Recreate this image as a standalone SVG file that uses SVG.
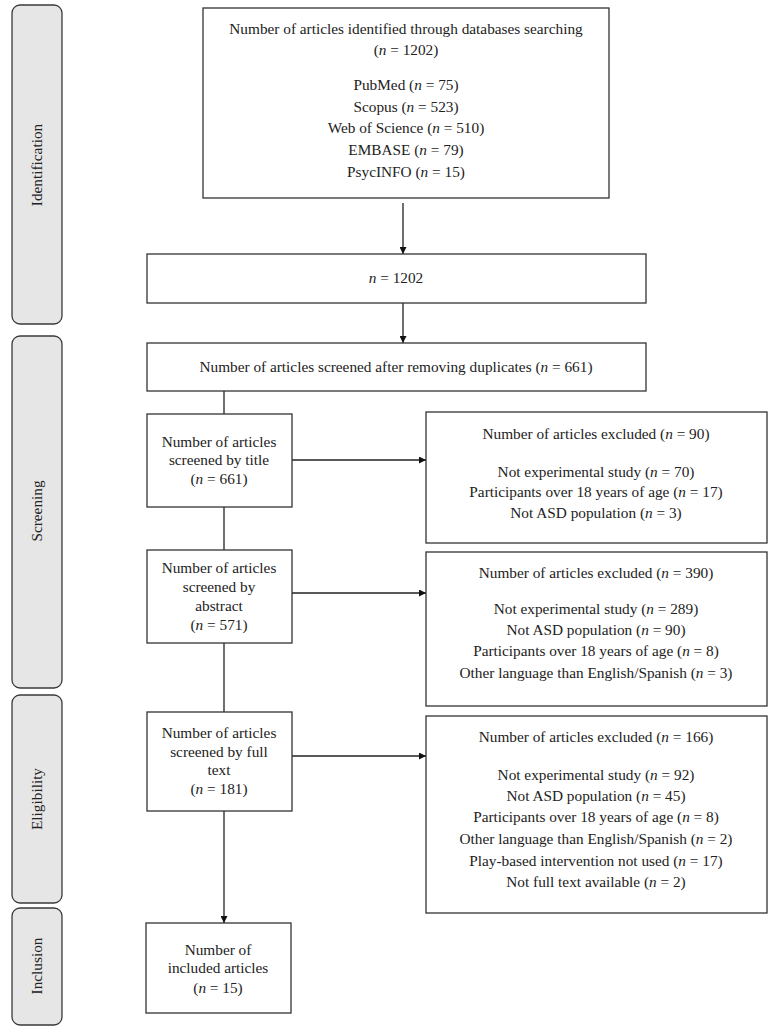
<svg xmlns="http://www.w3.org/2000/svg" width="775" height="1032" viewBox="0 0 775 1032">
<style>
.bg{fill:#ffffff}
.phase{fill:#e6e6e6;stroke:#3a3a3a;stroke-width:1.3}
.box{fill:#ffffff;stroke:#333333;stroke-width:1.3}
.t{font-family:"Liberation Serif","Times New Roman",serif;font-size:15.3px;fill:#222222;text-anchor:middle}
.i{font-style:italic}
.ln{fill:none;stroke:#222222;stroke-width:1.3}
</style>
<defs>
<marker id="ah" viewBox="0 0 10 10" refX="10" refY="5" markerWidth="7" markerHeight="7" markerUnits="userSpaceOnUse" orient="auto">
<path d="M0,0 L10,5 L0,10 Z" fill="#111111"/>
</marker>
</defs>
<rect class="bg" x="0" y="0" width="775" height="1032"/>

<g id="phase-identification">
<rect class="phase" x="12" y="5" width="50" height="319" rx="8"/>
<text class="t" transform="translate(42,165) rotate(-90)">Identification</text>
</g>
<g id="phase-screening">
<rect class="phase" x="12" y="336" width="50" height="352" rx="8"/>
<text class="t" transform="translate(42,511) rotate(-90)">Screening</text>
</g>
<g id="phase-eligibility">
<rect class="phase" x="12" y="695" width="50" height="208" rx="8"/>
<text class="t" transform="translate(42,799) rotate(-90)">Eligibility</text>
</g>
<g id="phase-inclusion">
<rect class="phase" x="12" y="908" width="50" height="117" rx="8"/>
<text class="t" transform="translate(42,966) rotate(-90)">Inclusion</text>
</g>

<g id="connectors">
<line class="ln" x1="403" y1="203" x2="403" y2="254" marker-end="url(#ah)"/>
<line class="ln" x1="403" y1="303" x2="403" y2="343" marker-end="url(#ah)"/>
<line class="ln" x1="224" y1="391" x2="224" y2="414"/>
<line class="ln" x1="224" y1="507" x2="224" y2="550"/>
<line class="ln" x1="224" y1="643" x2="224" y2="712"/>
<line class="ln" x1="224" y1="811" x2="224" y2="923" marker-end="url(#ah)"/>
<line class="ln" x1="292" y1="460" x2="426" y2="460" marker-end="url(#ah)"/>
<line class="ln" x1="292" y1="593" x2="426" y2="593" marker-end="url(#ah)"/>
<line class="ln" x1="292" y1="756" x2="426" y2="756" marker-end="url(#ah)"/>
</g>

<g id="node-identified">
<rect class="box" x="203" y="8" width="406" height="190"/>
<text class="t" x="406" y="34">Number of articles identified through databases searching</text>
<text class="t" x="406" y="55">(<tspan class="i">n</tspan> = 1202)</text>
<text class="t" x="406" y="90">PubMed (<tspan class="i">n</tspan> = 75)</text>
<text class="t" x="406" y="112">Scopus (<tspan class="i">n</tspan> = 523)</text>
<text class="t" x="406" y="133">Web of Science (<tspan class="i">n</tspan> = 510)</text>
<text class="t" x="406" y="155">EMBASE (<tspan class="i">n</tspan> = 79)</text>
<text class="t" x="406" y="177">PsycINFO (<tspan class="i">n</tspan> = 15)</text>
</g>

<g id="node-total">
<rect class="box" x="147" y="254" width="499" height="49"/>
<text class="t" x="396" y="283"><tspan class="i">n</tspan> = 1202</text>
</g>

<g id="node-dedup">
<rect class="box" x="147" y="343" width="499" height="48"/>
<text class="t" x="396" y="372">Number of articles screened after removing duplicates (<tspan class="i">n</tspan> = 661)</text>
</g>

<g id="node-title">
<rect class="box" x="147" y="414" width="145" height="93"/>
<text class="t" x="219" y="447">Number of articles</text>
<text class="t" x="219" y="465">screened by title</text>
<text class="t" x="219" y="484">(<tspan class="i">n</tspan> = 661)</text>
</g>

<g id="node-abstract">
<rect class="box" x="147" y="550" width="145" height="93"/>
<text class="t" x="219" y="573">Number of articles</text>
<text class="t" x="219" y="592">screened by</text>
<text class="t" x="219" y="611">abstract</text>
<text class="t" x="219" y="630">(<tspan class="i">n</tspan> = 571)</text>
</g>

<g id="node-fulltext">
<rect class="box" x="147" y="712" width="145" height="99"/>
<text class="t" x="219" y="738">Number of articles</text>
<text class="t" x="219" y="757">screened by full</text>
<text class="t" x="219" y="775">text</text>
<text class="t" x="219" y="794">(<tspan class="i">n</tspan> = 181)</text>
</g>

<g id="node-included">
<rect class="box" x="146" y="923" width="145" height="90"/>
<text class="t" x="218" y="955">Number of</text>
<text class="t" x="218" y="973">included articles</text>
<text class="t" x="218" y="993">(<tspan class="i">n</tspan> = 15)</text>
</g>

<g id="node-excl-title">
<rect class="box" x="426" y="412" width="341" height="131"/>
<text class="t" x="596" y="439">Number of articles excluded (<tspan class="i">n</tspan> = 90)</text>
<text class="t" x="596" y="477">Not experimental study (<tspan class="i">n</tspan> = 70)</text>
<text class="t" x="596" y="497">Participants over 18 years of age (<tspan class="i">n</tspan> = 17)</text>
<text class="t" x="596" y="518">Not ASD population (<tspan class="i">n</tspan> = 3)</text>
</g>

<g id="node-excl-abstract">
<rect class="box" x="426" y="552" width="341" height="154"/>
<text class="t" x="596" y="578">Number of articles excluded (<tspan class="i">n</tspan> = 390)</text>
<text class="t" x="596" y="614">Not experimental study (<tspan class="i">n</tspan> = 289)</text>
<text class="t" x="596" y="635">Not ASD population (<tspan class="i">n</tspan> = 90)</text>
<text class="t" x="596" y="656">Participants over 18 years of age (<tspan class="i">n</tspan> = 8)</text>
<text class="t" x="596" y="678">Other language than English/Spanish (<tspan class="i">n</tspan> = 3)</text>
</g>

<g id="node-excl-fulltext">
<rect class="box" x="426" y="716" width="341" height="197"/>
<text class="t" x="596" y="742">Number of articles excluded (<tspan class="i">n</tspan> = 166)</text>
<text class="t" x="596" y="780">Not experimental study (<tspan class="i">n</tspan> = 92)</text>
<text class="t" x="596" y="801">Not ASD population (<tspan class="i">n</tspan> = 45)</text>
<text class="t" x="596" y="822">Participants over 18 years of age (<tspan class="i">n</tspan> = 8)</text>
<text class="t" x="596" y="844">Other language than English/Spanish (<tspan class="i">n</tspan> = 2)</text>
<text class="t" x="596" y="866">Play-based intervention not used (<tspan class="i">n</tspan> = 17)</text>
<text class="t" x="596" y="887">Not full text available (<tspan class="i">n</tspan> = 2)</text>
</g>
</svg>
